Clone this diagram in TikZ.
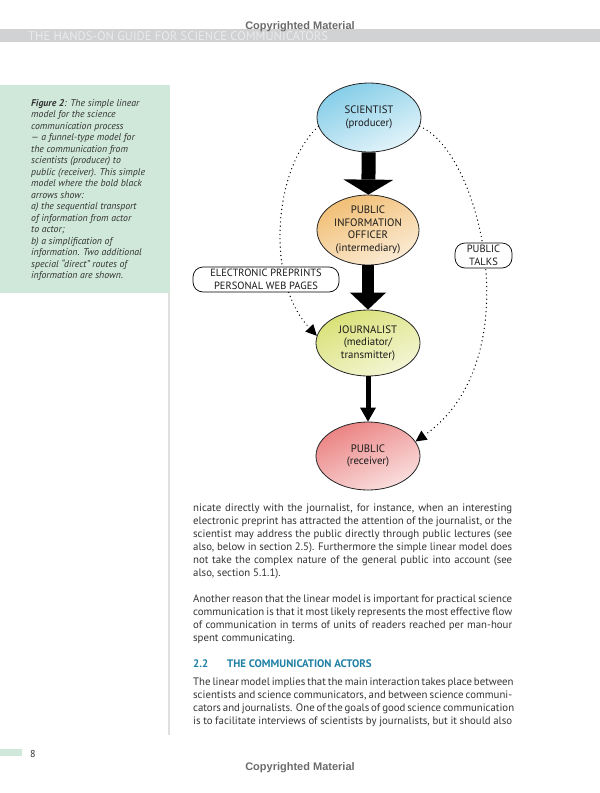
\documentclass[tikz,border=0pt]{standalone}
\usepackage{fontspec}
\setmainfont{PT Sans}
\newfontfamily\stampfont{Liberation Sans}
\usetikzlibrary{shapes.geometric,arrows.meta}

\definecolor{sciblue}{HTML}{84CDE8}
\definecolor{pioorange}{HTML}{F1BE74}
\definecolor{jougreen}{HTML}{D9E176}
\definecolor{pubred}{HTML}{EB8282}
\definecolor{capgreen}{HTML}{CFE8DA}
\definecolor{bandgray}{HTML}{D1D2D4}
\definecolor{headblue}{HTML}{1F7FA4}
\definecolor{bodytext}{HTML}{333333}

\newcommand\fullline[1]{\makebox[319pt][s]{#1}}

\begin{document}
\begin{tikzpicture}[x=1pt,y=-1pt,
        actor/.style={ellipse,draw=black!85,line width=0.8pt,inner sep=0pt,align=center,
            minimum width=104pt,minimum height=68pt,text=black!90,
            font=\fontsize{10.8}{12.6}\selectfont},
        route/.style={draw,rounded corners=10pt,line width=0.7pt,fill=white,align=center,
            inner sep=0pt,minimum height=25pt,text=black!90,font=\fontsize{10.5}{12.5}\selectfont},
        dots/.style={line width=1.4pt,dash pattern=on 0pt off 4.2pt,line cap=round,
            -{Triangle[width=11pt,length=11pt,line width=0pt]}},
        body/.style={anchor=base west,align=left,inner sep=0pt,text=bodytext,
            font=\fontsize{10.8}{13}\selectfont},
        stamp/.style={anchor=base,inner sep=0pt,text=black!58,
            font=\stampfont\bfseries\fontsize{11}{12}\selectfont}]

    \useasboundingbox (0,0) rectangle (600,793);

    % page furniture
    \fill[bandgray] (0,29) rectangle (600,42);
    \node[anchor=base west,inner sep=0pt,text=white!92!black,font=\fontsize{12.5}{12}\selectfont]
        (running) at (28,40) {THE HANDS-ON GUIDE FOR SCIENCE COMMUNICATORS};
    \node[stamp] (stamptop) at (300,29) {Copyrighted Material};
    \node[stamp] (stampbottom) at (300,770) {Copyrighted Material};

    \fill[capgreen] (0,85) rectangle (170,293);
    \draw[line width=1.5pt,black!12] (169,293) -- (169,735);
    \fill[capgreen] (0,749) rectangle (22,756);
    \node[anchor=base west,inner sep=0pt,text=bodytext,font=\fontsize{10}{12}\selectfont]
        (pagenum) at (30,757) {8};

    % base anchor of a multi-line node is its last line
    \node[anchor=base west,inner sep=0pt,align=left,text=bodytext,
        font=\itshape\fontsize{9.8}{11.5}\selectfont] (caption) at (31,278.5) {%
        \textbf{Figure 2}: The simple linear\\
        model for the science\\
        communication process\\
        --- a funnel-type model for\\
        the communication from\\
        scientists (producer) to\\
        public (receiver). This simple\\
        model where the bold black\\
        arrows show:\\
        a) the sequential transport\\
        of information from actor\\
        to actor;\\
        b) a simplification of\\
        information. Two additional\\
        special “direct” routes of\\
        information are shown.};

    % the four actors
    \node[actor,minimum height=69pt,top color=sciblue,bottom color=sciblue!22!white,shading angle=25]
        (sci) at (369,117.5) {SCIENTIST\\(producer)};
    \node[actor,minimum width=102pt,minimum height=70pt,top color=pioorange,bottom color=pioorange!30!white,shading angle=25]
        (pio) at (368,230) {PUBLIC\\INFORMATION\\OFFICER\\(intermediary)};
    \node[actor,minimum height=66pt,top color=jougreen,bottom color=jougreen!30!white,shading angle=25]
        (jou) at (368,343) {JOURNALIST\\(mediator/\\transmitter)};
    \node[actor,top color=pubred,bottom color=pubred!25!white,shading angle=25]
        (pub) at (368,456) {PUBLIC\\(receiver)};

    \draw[line width=14pt,-{Triangle[width=50pt,length=15pt,line width=0pt]}] (sci) -- (pio);
    \draw[line width=12.5pt,-{Triangle[width=36pt,length=17pt,line width=0pt]}] (pio) -- (jou);
    \draw[line width=5pt,-{Triangle[width=16pt,length=14pt,line width=0pt]}] (jou) -- (pub);

    % direct routes
    \draw[dots] (sci.190) .. controls (272,170) and (266,282) .. (jou.172);
    \draw[dots] (sci.-10) .. controls (480,150) and (532,360) .. (pub.17);

    \node[route,minimum width=146pt] (preprints) at (266,279.5) {ELECTRONIC PREPRINTS\\PERSONAL WEB PAGES};
    \node[route,minimum width=57pt] (talks) at (483.5,255.5) {PUBLIC\\TALKS};

    % running text
    \node[body] (para1) at (193,576.5) {%
        \fullline{nicate directly with the journalist, for instance, when an interesting}\\
        \fullline{electronic preprint has attracted the attention of the journalist, or the}\\
        \fullline{scientist may address the public directly through public lectures (see}\\
        \fullline{also, below in section 2.5). Furthermore the simple linear model does}\\
        \fullline{not take the complex nature of the general public into account (see}\\
        also, section 5.1.1).};
    \node[body] (para2) at (193,641.5) {%
        \fullline{Another reason that the linear model is important for practical science}\\
        \fullline{communication is that it most likely represents the most effective flow}\\
        \fullline{of communication in terms of units of readers reached per man-hour}\\
        spent communicating.};
    \node[anchor=base west,inner sep=0pt,text=headblue,font=\bfseries\fontsize{10.9}{12}\selectfont]
        (secnum) at (193,667) {2.2};
    \node[anchor=base west,inner sep=0pt,text=headblue,font=\bfseries\fontsize{10.9}{12}\selectfont]
        (sectitle) at (227,667) {THE COMMUNICATION ACTORS};
    \node[body] (para3) at (193,724) {%
        \fullline{The linear model implies that the main interaction takes place between}\\
        \fullline{scientists and science communicators, and between science communi-}\\
        \fullline{cators and journalists. One of the goals of good science communication}\\
        \fullline{is to facilitate interviews of scientists by journalists, but it should also}};
\end{tikzpicture}
\end{document}
